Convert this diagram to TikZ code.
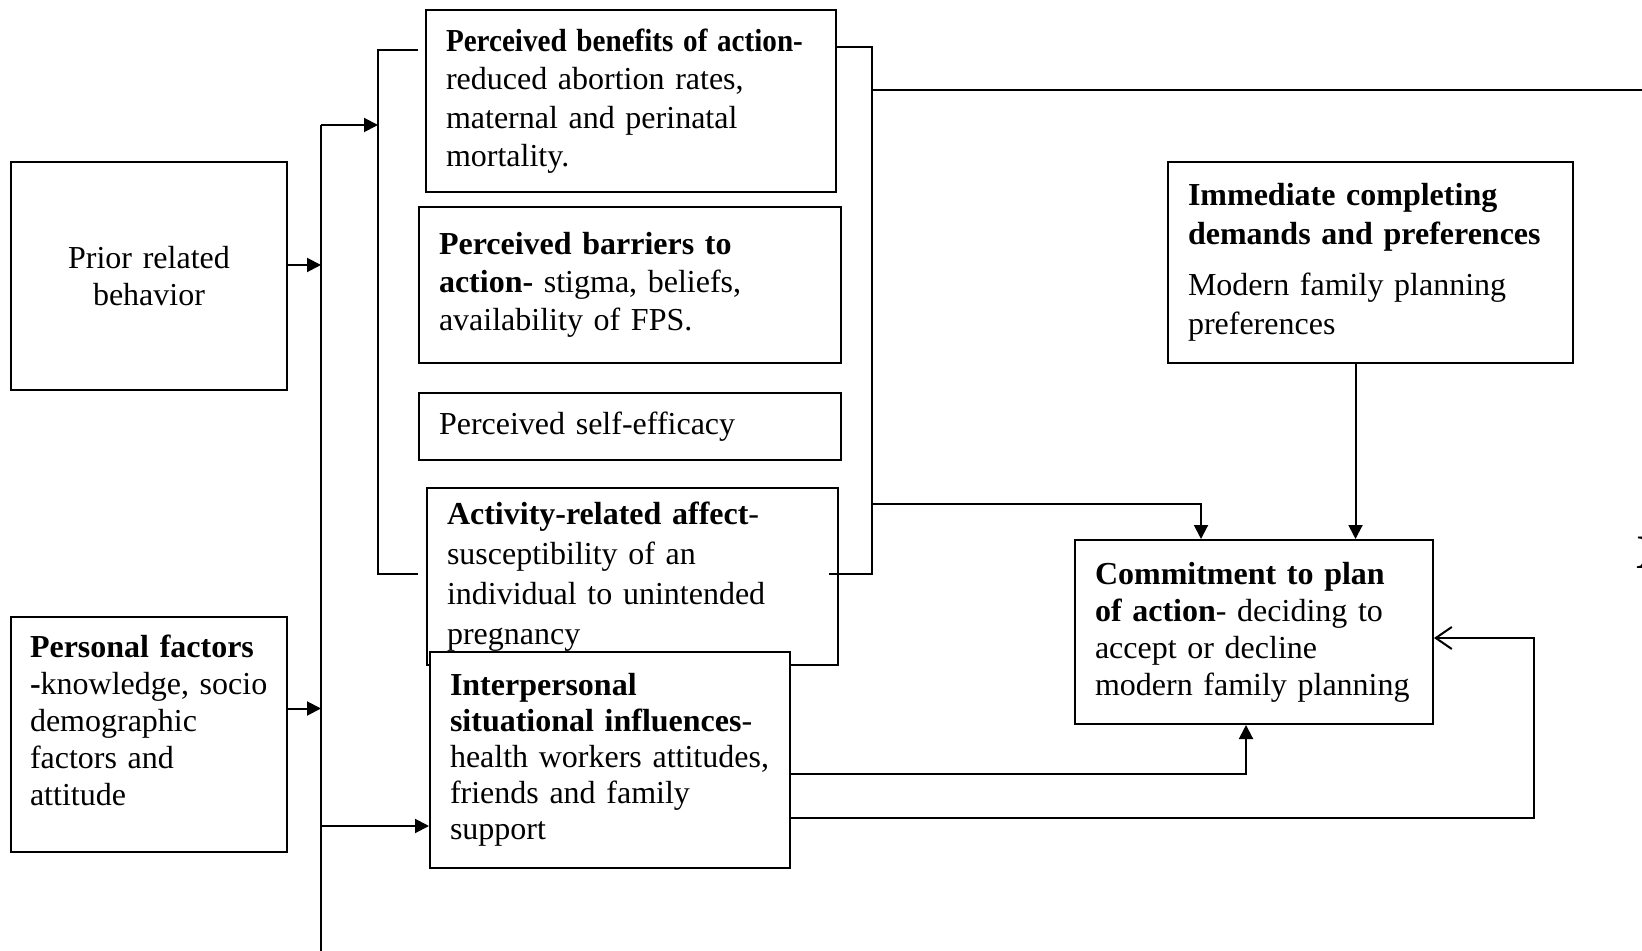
\documentclass[tikz,border=0pt]{standalone}
\usepackage{fontspec}
\setmainfont{Liberation Serif}
\usetikzlibrary{arrows.meta}

\tikzset{
  box/.style={draw,line width=1pt,fill=white,inner xsep=10pt,inner ysep=0pt,align=left,
    font=\fontsize{16}{18.5}\selectfont},
  link/.style={line width=1pt},
  arr/.style={line width=1pt,-{Triangle[length=7pt,width=7pt]}},
  back/.style={line width=1pt,-{Straight Barb[length=8pt,width=11pt]}},
}

\begin{document}
\begin{tikzpicture}[x=0.5pt,y=-0.5pt]
	\useasboundingbox (0,0) rectangle (1642,951);
	%Left column
	\node[box,align=center,text width=118pt,minimum height=114pt] (prior) at (149,276) {Prior related\\behavior};
	\node[box,inner xsep=9.5pt,text width=119pt,minimum height=117.5pt] (personal) at (149,734.5)
		{\textbf{Personal factors}\\\mbox{\textbf{-}knowledge, socio}\\demographic\\factors and\\attitude\\[-4.5pt]\mbox{}};
	
	%Middle column
	\node[box,text width=185pt,minimum height=91pt,font=\fontsize{16}{19.25}\selectfont] (benefit) at (631,101)
		{\scalebox{0.91}[1]{\textbf{Perceived benefits of action-}}\\reduced abortion rates,\\maternal and perinatal\\mortality.};
	\node[box,text width=191pt,minimum height=78pt,font=\fontsize{16}{19}\selectfont] (barrier) at (630,285)
		{\textbf{Perceived barriers to}\\\textbf{action-} stigma, beliefs,\\availability of FPS.};
	\node[box,text width=191pt,minimum height=33.5pt] (efficacy) at (630,426.5) {Perceived self-efficacy};
	\node[box,text width=185.5pt,minimum height=88.5pt,font=\fontsize{16}{20}\selectfont] (affect) at (632.5,576.5)
		{\textbf{Activity-related affect}-\\susceptibility of an\\individual to unintended\\pregnancy};
	\node[box,text width=160pt,minimum height=108pt,font=\fontsize{16}{18}\selectfont] (interp) at (610,760)
		{\textbf{Interpersonal}\\\textbf{situational influences}-\\health workers attitudes,\\friends and family\\support};
	
	%Right column
	\node[box,text width=182.5pt,minimum height=100.5pt,font=\fontsize{16}{19.5}\selectfont] (immediate) at (1370.5,262.5)
		{\textbf{Immediate completing}\\\textbf{demands and preferences}\\[6pt]Modern family planning\\preferences};
	\node[box,text width=159pt,minimum height=92pt] (commit) at (1254,632)
		{\textbf{Commitment to plan}\\\textbf{of action}- deciding to\\accept or decline\\modern family planning};
	\node[anchor=base west,inner sep=0pt,font=\fontsize{24}{26}\selectfont\bfseries] (xmark) at (1636,568) {X};
	
	%Trunk
	\coordinate (trunk top) at (321,125);
	\coordinate (trunk end) at (321,951);
	\draw[link] (trunk top) -- (trunk end);
	\coordinate (prior out) at ([yshift=5.5pt]prior.east);
	\coordinate (personal out) at ([yshift=13pt]personal.east);
	\draw[arr] (prior out) -- (prior out -| trunk top);
	\draw[arr] (personal out) -- (personal out -| trunk top);
	\coordinate (interp in) at ([yshift=-33pt]interp.west);
	\draw[arr] (interp in -| trunk top) -- (interp in);
	
	%Brackets
	\coordinate (lb top) at (378,50);
	\coordinate (lb bot) at (378,574);
	\draw[arr] (trunk top) -- (trunk top -| lb top);
	\draw[link] (lb top) ++(40,0) -- (lb top) -- (lb bot) -- ++(40,0);
	\coordinate (rb top) at (872,47);
	\coordinate (rb bot) at (872,574);
	\draw[link] (rb top -| benefit.east) -- (rb top) -- (rb bot) -- ++(-43,0);
	\coordinate (rb out) at (872,90);
	\coordinate (far right) at (1642,90);
	\draw[link] (rb out) -- (far right);
	\coordinate (rb mid) at (872,504);
	\draw[arr] (rb mid) -| ([xshift=-26.5pt]commit.north);
	
	%Into commitment
	\draw[arr] ([xshift=-7.5pt]immediate.south) -- ([xshift=-7.5pt]immediate.south |- commit.north);
	\draw[arr] ([yshift=-7pt]interp.east) -| ([xshift=-4pt]commit.south);
	\coordinate (loop) at (1534,818);
	\draw[back] (interp.east |- loop) -- (loop) |- ([yshift=-3pt]commit.east);
\end{tikzpicture}
\end{document}
